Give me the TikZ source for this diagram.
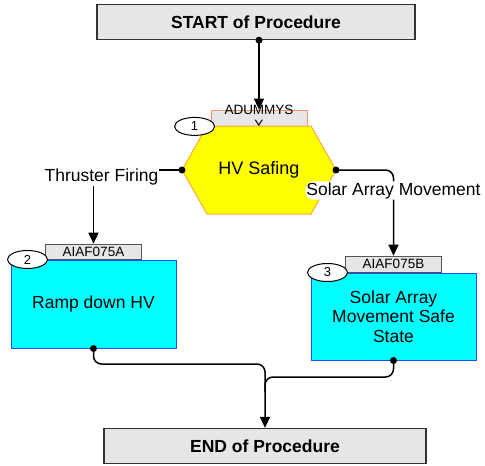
\documentclass[tikz,border=0pt]{standalone}
\usepackage{fontspec}
\setmainfont{Liberation Sans}
\usetikzlibrary{arrows.meta, shapes.geometric, positioning}
\definecolor{boxgray}{RGB}{230,230,230}
\definecolor{termedge}{RGB}{50,50,50}
\definecolor{tabedge}{RGB}{85,85,85}
\definecolor{tabsalmon}{RGB}{250,150,110}
\definecolor{hexfill}{RGB}{255,255,0}
\definecolor{hexedge}{RGB}{255,165,70}
\definecolor{stepcyan}{RGB}{0,255,255}
\definecolor{stepedge}{RGB}{30,80,255}
\tikzstyle{term} = [rectangle,draw=termedge,fill=boxgray,line width=1.3pt,minimum height=35pt,font=\fontsize{17.5}{20}\selectfont\bfseries]
\tikzstyle{stepbox} = [rectangle,draw=stepedge,fill=stepcyan,line width=1pt,minimum width=165pt,align=center,font=\fontsize{17.5}{19.5}\selectfont]
\tikzstyle{tab} = [rectangle,draw=tabedge,fill=boxgray,line width=0.8pt,minimum width=96pt,minimum height=15pt,inner sep=0pt,font=\fontsize{13.5}{14}\selectfont]
\tikzstyle{num} = [ellipse,draw,fill=white,line width=1pt,minimum width=40pt,minimum height=18pt,inner sep=0pt,font=\fontsize{13}{14}\selectfont]
\tikzstyle{hexa} = [fill=hexfill,draw=hexedge,line width=1pt]
\tikzstyle{conn} = [line width=1.5pt,-{Triangle[length=11pt,width=10pt]}]
\tikzstyle{lbl} = [fill=white,inner sep=1pt,font=\fontsize{17.5}{20}\selectfont]

\begin{document}
\begin{tikzpicture}[x=1pt,y=-1pt]

	\useasboundingbox (0,0) rectangle (485,466);

	\node[term,minimum width=318pt](a) at (256,22) {START of Procedure};
	\node[term,minimum width=322pt](e) at (265,446) {END of Procedure};

	\node[tab,draw=tabsalmon,minimum height=16pt](t1) at (259,118) {\smash{\raisebox{-11pt}{\shortstack{ADUMMYS\\[2pt]Y}}}};
	\filldraw[hexa] (182,170) -- (207,126) -- (311,126) -- (336,170) -- (311,214) -- (207,214) -- cycle;
	\node[font=\fontsize{18}{20}\selectfont](h) at (259,170) {HV Safing};
	\coordinate (hl) at (182,170);
	\coordinate (hr) at (336,170);
	\node[num](n1) at ([xshift=-16pt]t1.south west) {1};

	\node[stepbox,minimum height=88pt](b) at (93.5,304) {Ramp down HV};
	\node[tab,anchor=south](t2) at (b.north) {AIAF075A};
	\node[num](n2) at ([xshift=17pt]b.north west) {2};

	\node[stepbox,minimum height=87pt](c) at (393.5,316.5) {Solar Array\\Movement Safe\\State};
	\node[tab,anchor=south,minimum height=16pt](t3) at (c.north) {AIAF075B};
	\node[num](n3) at ([xshift=17pt]c.north west) {3};

	\draw[conn] (a.south -| t1.north) -- (t1.north);
	\draw[conn] (hl) -| node[lbl,xshift=8pt,yshift=-7pt]{Thruster Firing} (t2.north);
	\draw[conn,rounded corners=8pt] (hr) -| node[lbl,pos=0.62]{Solar Array Movement} (t3.north);

	\coordinate (j) at (e.north |- 0,364);
	\coordinate (k) at (e.north |- 0,377);
	\coordinate (k2) at (e.north |- 0,392);
	\draw[conn,rounded corners=8pt] (b.south) |- (j) -- (e.north);
	\draw[line width=1.5pt,rounded corners=8pt] (c.south) |- (k) -- (k2);

	\foreach \p in {a.south -| t1.north, hl, hr, b.south, c.south}
		\fill (\p) circle (3.5pt);

\end{tikzpicture}
\end{document}
